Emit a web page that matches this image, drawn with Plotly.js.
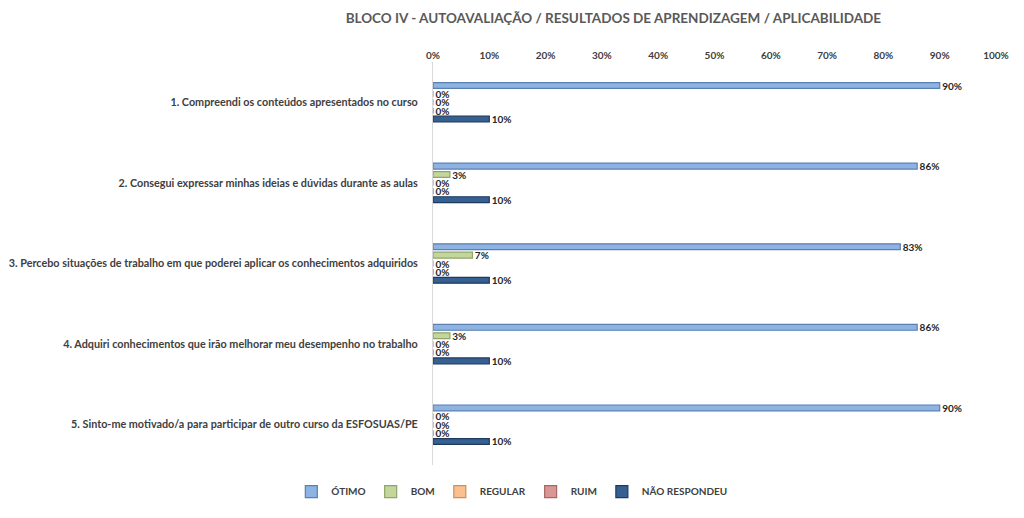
<!DOCTYPE html>
<html><head><meta charset="utf-8">
<script src="https://cdn.plot.ly/plotly-3.0.1.min.js"></script>
<style>html,body{margin:0;padding:0;background:#fff}#chart{width:1024px;height:518px}</style>
</head><body><div id="chart"></div>
<script>
const categories = [
  "1. Compreendi os conteúdos apresentados no curso",
  "2. Consegui expressar minhas ideias e dúvidas durante as aulas",
  "3. Percebo situações de trabalho em que poderei aplicar os conhecimentos adquiridos",
  "4. Adquiri conhecimentos que irão melhorar meu desempenho no trabalho",
  "5. Sinto-me motivado/a para participar de outro curso da ESFOSUAS/PE"
];
const seriesNames = ["ÓTIMO", "BOM", "REGULAR", "RUIM", "NÃO RESPONDEU"];
const otimo = [90, 86, 83, 86, 90];
const bom = [0, 3, 7, 3, 0];
const regular = [0, 0, 0, 0, 0];
const ruim = [0, 0, 0, 0, 0];
const naoRespondeu = [10, 10, 10, 10, 10];
const tickVals = [0,10,20,30,40,50,60,70,80,90,100];

const values = [otimo, bom, regular, ruim, naoRespondeu];
const fills = ["#8DB3E2", "#C3D69B", "#FAC090", "#D99694", "#376092"];
const lines = ["#5A7FB0", "#8FA468", "#C98F5E", "#A86664", "#1F3A5F"];
const font = "Lato, 'Liberation Sans', sans-serif";

const traces = values.map((v, i) => ({
  type: 'bar', orientation: 'h', name: '<b>' + seriesNames[i] + '</b>',
  y: categories, x: v,
  marker: {color: fills[i], line: {color: lines[i], width: 1.2}},
  text: v.map(d => '<b> ' + d + '%</b>'), textposition: 'outside', cliponaxis: false, constraintext: 'none',
  textfont: {family: font, size: 10, color: '#262626'},
  hoverinfo: 'x+name'
}));

const layout = {
  width: 1024, height: 518,
  margin: {l: 433, r: 28, t: 62, b: 40},
  paper_bgcolor: '#fff', plot_bgcolor: '#fff',
  title: {text: '<b>BLOCO IV - AUTOAVALIAÇÃO / RESULTADOS DE APRENDIZAGEM / APLICABILIDADE</b>',
          font: {family: font, size: 13.5, color: '#595959'}, x: 0.599, xanchor: 'center', y: 0.965, yanchor: 'middle'},
  barmode: 'group', bargap: 0.48, bargroupgap: 0.3,
  xaxis: {side: 'top', range: [0, 100], tickvals: tickVals, ticktext: tickVals.map(t => '<b>' + t + '%</b>'),
          showgrid: false, zeroline: false, showline: false, ticks: '',
          tickfont: {family: font, size: 10, color: '#404040'}, fixedrange: true},
  yaxis: {autorange: 'reversed', showgrid: false, zeroline: false, showline: true,
          tickvals: categories, ticktext: categories.map(c => '<b>' + c + '</b>'),
          linecolor: '#D9D9D9', linewidth: 1, ticks: '', ticklabelstandoff: 12,
          tickfont: {family: font, size: 10.8, color: '#404040'}},
  legend: {orientation: 'h', x: 0.14, xanchor: 'center', y: -0.03, yanchor: 'top',
           font: {family: font, size: 10, color: '#404040'}, traceorder: 'normal',
           itemwidth: 30},
  showlegend: true
};
Plotly.newPlot('chart', traces, layout, {displayModeBar: false, staticPlot: true});
</script></body></html>
